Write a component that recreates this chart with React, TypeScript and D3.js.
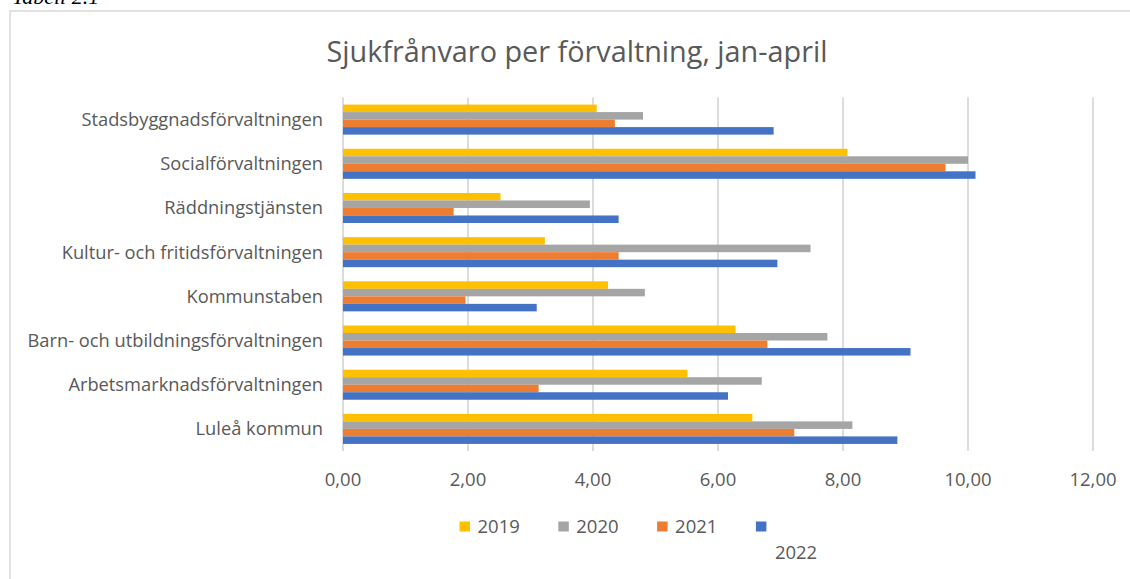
import React from 'react';
import * as d3 from 'd3';

// categories top to bottom as drawn
const categories = [
  'Stadsbyggnadsförvaltningen',
  'Socialförvaltningen',
  'Räddningstjänsten',
  'Kultur- och fritidsförvaltningen',
  'Kommunstaben',
  'Barn- och utbildningsförvaltningen',
  'Arbetsmarknadsförvaltningen',
  'Luleå kommun',
];

const years = ['2019', '2020', '2021', '2022'];

const values2019 = [4.06, 8.07, 2.52, 3.23, 4.24, 6.28, 5.51, 6.55];
const values2020 = [4.8, 10.0, 3.95, 7.48, 4.83, 7.75, 6.7, 8.15];
const values2021 = [4.35, 9.64, 1.77, 4.41, 1.96, 6.79, 3.13, 7.22];
const values2022 = [6.89, 10.12, 4.41, 6.95, 3.1, 9.08, 6.16, 8.87];

const xTicks = [0, 2, 4, 6, 8, 10, 12];

const colors = ['#FFC000', '#A5A5A5', '#ED7D31', '#4472C4'];

const W = 1130;
const H = 579;
const textColor = '#595959';
const font = "'Open Sans', sans-serif";

export default function App() {
  const series = [values2019, values2020, values2021, values2022];

  const x = d3.scaleLinear().domain([0, 12]).range([343, 1093]);
  const y = d3
    .scaleBand<string>()
    .domain(categories)
    .range([97.5, 451])
    .paddingInner(0.32)
    .paddingOuter(0.16);
  const inner = d3.scaleBand<string>().domain(years).range([0, y.bandwidth()]);

  const fmt = (v: number) => d3.format('.2f')(v).replace('.', ',');

  const legendX = (i: number) => 459.5 + i * 98.8;

  return (
    <svg
      width={W}
      height={H}
      style={{ position: 'absolute', left: 0, top: 0, background: '#fff' }}
    >
      <rect width={W} height={H} fill="#fff" />
      <text
        x={12}
        y={4}
        fontFamily="'Liberation Serif', 'Times New Roman', serif"
        fontStyle="italic"
        fontSize={22}
        fill="#000"
      >
        Tabell 2.1
      </text>
      <rect x={10} y={11} width={1200} height={700} fill="none" stroke="#d9d9d9" strokeWidth={1.5} />

      <text
        x={577}
        y={61.5}
        textAnchor="middle"
        fontFamily={font}
        fontSize={28.8}
        fill={textColor}
      >
        Sjukfrånvaro per förvaltning, jan-april
      </text>

      {/* gridlines */}
      {xTicks.map((t) => (
        <line
          key={t}
          x1={x(t)}
          x2={x(t)}
          y1={97.5}
          y2={451}
          stroke="#d9d9d9"
          strokeWidth={1.8}
        />
      ))}

      {/* bars */}
      {categories.map((c, ci) => (
        <g key={c} transform={`translate(0,${y(c)})`}>
          {years.map((yr, si) => (
            <rect
              key={yr}
              x={x(0)}
              y={inner(yr)}
              width={x(series[si][ci]) - x(0)}
              height={inner.bandwidth()}
              fill={colors[si]}
            />
          ))}
        </g>
      ))}

      {/* category labels */}
      {categories.map((c) => (
        <text
          key={c}
          x={323}
          y={(y(c) ?? 0) + y.bandwidth() / 2}
          dy="0.35em"
          textAnchor="end"
          fontFamily={font}
          fontSize={18.3}
          fill={textColor}
        >
          {c}
        </text>
      ))}

      {/* x tick labels */}
      {xTicks.map((t) => (
        <text
          key={t}
          x={x(t)}
          y={486}
          textAnchor="middle"
          fontFamily={font}
          fontSize={18.5}
          fill={textColor}
        >
          {fmt(t)}
        </text>
      ))}

      {/* legend */}
      {years.map((yr, i) => {
        const lx = legendX(i);
        const last = i === years.length - 1;
        return (
          <g key={yr}>
            <rect x={lx} y={521.5} width={10.5} height={10} fill={colors[i]} />
            <text
              x={last ? lx + 19 : lx + 18}
              y={last ? 559 : 533}
              fontFamily={font}
              fontSize={18.5}
              fill={textColor}
            >
              {yr}
            </text>
          </g>
        );
      })}
    </svg>
  );
}
